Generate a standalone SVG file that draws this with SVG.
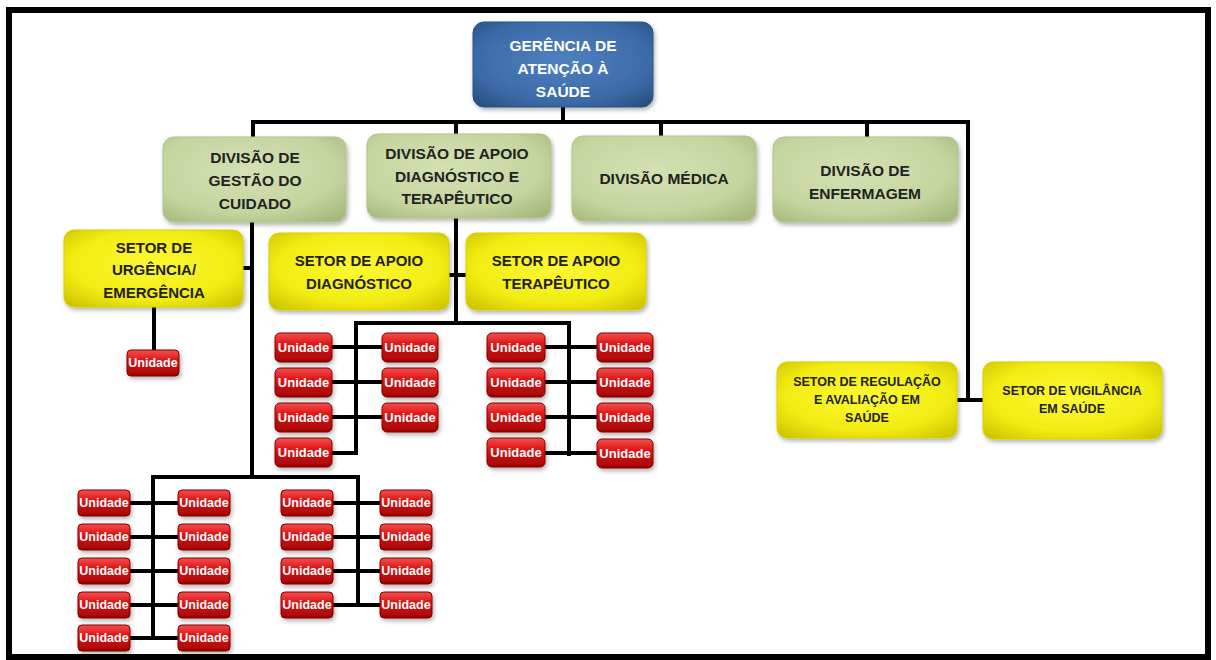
<svg xmlns="http://www.w3.org/2000/svg" width="1216" height="660" viewBox="0 0 1216 660">
<defs>
<radialGradient id="gBlue" cx="50%" cy="45%" r="70%">
<stop offset="0" stop-color="#4f80c0"/><stop offset="0.7" stop-color="#3c6aa8"/><stop offset="1" stop-color="#27507f"/>
</radialGradient>
<radialGradient id="gGreen" cx="45%" cy="40%" r="75%">
<stop offset="0" stop-color="#d3e1b3"/><stop offset="0.65" stop-color="#c5d59f"/><stop offset="1" stop-color="#a4b97a"/>
</radialGradient>
<radialGradient id="gYellow" cx="50%" cy="45%" r="70%">
<stop offset="0" stop-color="#fcf934"/><stop offset="0.65" stop-color="#f2ec12"/><stop offset="1" stop-color="#cdc500"/>
</radialGradient>
<linearGradient id="gRed" x1="0" y1="0" x2="0" y2="1">
<stop offset="0" stop-color="#f25050"/><stop offset="0.4" stop-color="#de1414"/><stop offset="1" stop-color="#a00404"/>
</linearGradient>
<filter id="sh" x="-10%" y="-10%" width="125%" height="135%">
<feDropShadow dx="1.5" dy="2.5" stdDeviation="2" flood-color="#000" flood-opacity="0.3"/>
</filter>
</defs>
<style>
text { font-family: "Liberation Sans", Arial, sans-serif; font-weight: bold; text-anchor: middle; dominant-baseline: central; }
.blue rect { fill: url(#gBlue); stroke: #2a5286; stroke-width: 1; filter: url(#sh); }
.blue text { fill: #ffffff; font-size: 15.5px; }
.green rect { fill: url(#gGreen); stroke: #b0c28a; stroke-width: 1; filter: url(#sh); }
.green text { fill: #222222; font-size: 15.5px; }
.yellow rect { fill: url(#gYellow); stroke: #d8d000; stroke-width: 1; filter: url(#sh); }
.yellow text { fill: #222222; font-size: 15px; }
.yellow text.s { font-size: 12.5px; }
.unit rect { fill: url(#gRed); stroke: #800000; stroke-width: 1; filter: url(#sh); }
.unit text { fill: #ffffff; font-size: 13px; }
.unit text.s { font-size: 12.5px; }
#connectors path { fill: none; stroke: #000; stroke-width: 4; stroke-linecap: square; }
</style>
<rect x="0" y="0" width="1216" height="660" fill="#ffffff"/>
<rect id="frame" x="9" y="10" width="1199" height="647" fill="none" stroke="#000" stroke-width="6"/>

<g id="connectors">
<path d="M563,107 V122 M253,122 H968 M253,122 V137 M456,122 V134 M661,122 V136 M867,122 V137 M968,122 V400 M957,400 H983"/>
<path d="M252,222 V477 M243,268 H252 M154,307 V350"/>
<path d="M153,477 H358 M153,477 V638 M130,503 H178 M130,537 H178 M130,571 H178 M130,605 H178 M130,638 H178"/>
<path d="M358,477 V605 M333,503 H380 M333,537 H380 M333,571 H380 M333,605 H380"/>
<path d="M456,218 V323 M449,275 H466 M356,323 H569"/>
<path d="M356,323 V453 M332,347 H382 M332,382 H382 M332,417 H382 M332,453 H356"/>
<path d="M569,323 V454 M545,347 H597 M545,382 H597 M545,417 H597 M545,453 H597"/>
</g>

<g id="gerencia" class="blue"><rect x="473" y="22" width="180" height="85" rx="11"/>
<text x="563" y="45">GERÊNCIA DE</text><text x="563" y="68">ATENÇÃO À</text><text x="563" y="91">SAÚDE</text></g>

<g id="div-gestao" class="green"><rect x="163" y="137" width="183" height="85" rx="11"/>
<text x="255" y="157">DIVISÃO DE</text><text x="255" y="180">GESTÃO DO</text><text x="255" y="203">CUIDADO</text></g>
<g id="div-apoio" class="green"><rect x="367" y="134" width="184" height="84" rx="11"/>
<text x="457" y="153">DIVISÃO DE APOIO</text><text x="457" y="176">DIAGNÓSTICO E</text><text x="457" y="198">TERAPÊUTICO</text></g>
<g id="div-medica" class="green"><rect x="572" y="136" width="184" height="85" rx="11"/>
<text x="664" y="178">DIVISÃO MÉDICA</text></g>
<g id="div-enfermagem" class="green"><rect x="773" y="137" width="185" height="85" rx="11"/>
<text x="865" y="170">DIVISÃO DE</text><text x="865" y="193">ENFERMAGEM</text></g>

<g id="setor-urgencia" class="yellow"><rect x="64" y="230" width="179" height="77" rx="10"/>
<text x="154" y="247">SETOR DE</text><text x="154" y="269">URGÊNCIA/</text><text x="154" y="292">EMERGÊNCIA</text></g>
<g id="setor-diagnostico" class="yellow"><rect x="269" y="233" width="180" height="77" rx="10"/>
<text x="359" y="260">SETOR DE APOIO</text><text x="359" y="283">DIAGNÓSTICO</text></g>
<g id="setor-terapeutico" class="yellow"><rect x="466" y="233" width="180" height="77" rx="10"/>
<text x="556" y="260">SETOR DE APOIO</text><text x="556" y="283">TERAPÊUTICO</text></g>
<g id="setor-regulacao" class="yellow"><rect x="777" y="362" width="180" height="76" rx="10"/>
<text class="s" x="867" y="382">SETOR DE REGULAÇÃO</text><text class="s" x="867" y="400">E AVALIAÇÃO EM</text><text class="s" x="867" y="418">SAÚDE</text></g>
<g id="setor-vigilancia" class="yellow"><rect x="983" y="362" width="179" height="77" rx="10"/>
<text class="s" x="1072" y="391">SETOR DE VIGILÂNCIA</text><text class="s" x="1072" y="409">EM SAÚDE</text></g>

<g id="u-urg" class="unit"><rect x="127" y="350" width="52" height="26" rx="4"/><text class="s" x="153" y="363">Unidade</text></g>

<g id="uA1" class="unit"><rect x="275" y="333" width="57" height="29" rx="5"/><text x="303.5" y="347.5">Unidade</text></g>
<g id="uA2" class="unit"><rect x="275" y="368" width="57" height="29" rx="5"/><text x="303.5" y="382.5">Unidade</text></g>
<g id="uA3" class="unit"><rect x="275" y="403" width="57" height="29" rx="5"/><text x="303.5" y="417.5">Unidade</text></g>
<g id="uA4" class="unit"><rect x="275" y="438" width="57" height="29" rx="5"/><text x="303.5" y="452.5">Unidade</text></g>
<g id="uA5" class="unit"><rect x="382" y="333" width="56" height="29" rx="5"/><text x="410" y="347.5">Unidade</text></g>
<g id="uA6" class="unit"><rect x="382" y="368" width="56" height="29" rx="5"/><text x="410" y="382.5">Unidade</text></g>
<g id="uA7" class="unit"><rect x="382" y="403" width="56" height="29" rx="5"/><text x="410" y="417.5">Unidade</text></g>

<g id="uB1" class="unit"><rect x="487" y="333" width="58" height="29" rx="5"/><text x="516" y="347.5">Unidade</text></g>
<g id="uB2" class="unit"><rect x="487" y="368" width="58" height="29" rx="5"/><text x="516" y="382.5">Unidade</text></g>
<g id="uB3" class="unit"><rect x="487" y="403" width="58" height="29" rx="5"/><text x="516" y="417.5">Unidade</text></g>
<g id="uB4" class="unit"><rect x="487" y="438" width="58" height="29" rx="5"/><text x="516" y="452.5">Unidade</text></g>
<g id="uB5" class="unit"><rect x="597" y="333" width="56" height="29" rx="5"/><text x="625" y="347.5">Unidade</text></g>
<g id="uB6" class="unit"><rect x="597" y="368" width="56" height="29" rx="5"/><text x="625" y="382.5">Unidade</text></g>
<g id="uB7" class="unit"><rect x="597" y="403" width="56" height="29" rx="5"/><text x="625" y="417.5">Unidade</text></g>
<g id="uB8" class="unit"><rect x="597" y="439" width="56" height="29" rx="5"/><text x="625" y="453.5">Unidade</text></g>

<g id="uC1" class="unit"><rect x="78" y="490" width="52" height="26" rx="4"/><text class="s" x="104" y="503">Unidade</text></g>
<g id="uC2" class="unit"><rect x="78" y="524" width="52" height="26" rx="4"/><text class="s" x="104" y="537">Unidade</text></g>
<g id="uC3" class="unit"><rect x="78" y="558" width="52" height="26" rx="4"/><text class="s" x="104" y="571">Unidade</text></g>
<g id="uC4" class="unit"><rect x="78" y="592" width="52" height="26" rx="4"/><text class="s" x="104" y="605">Unidade</text></g>
<g id="uC5" class="unit"><rect x="78" y="625" width="52" height="26" rx="4"/><text class="s" x="104" y="638">Unidade</text></g>
<g id="uC6" class="unit"><rect x="178" y="490" width="52" height="26" rx="4"/><text class="s" x="204" y="503">Unidade</text></g>
<g id="uC7" class="unit"><rect x="178" y="524" width="52" height="26" rx="4"/><text class="s" x="204" y="537">Unidade</text></g>
<g id="uC8" class="unit"><rect x="178" y="558" width="52" height="26" rx="4"/><text class="s" x="204" y="571">Unidade</text></g>
<g id="uC9" class="unit"><rect x="178" y="592" width="52" height="26" rx="4"/><text class="s" x="204" y="605">Unidade</text></g>
<g id="uC10" class="unit"><rect x="178" y="625" width="52" height="26" rx="4"/><text class="s" x="204" y="638">Unidade</text></g>

<g id="uD1" class="unit"><rect x="281" y="490" width="52" height="26" rx="4"/><text class="s" x="307" y="503">Unidade</text></g>
<g id="uD2" class="unit"><rect x="281" y="524" width="52" height="26" rx="4"/><text class="s" x="307" y="537">Unidade</text></g>
<g id="uD3" class="unit"><rect x="281" y="558" width="52" height="26" rx="4"/><text class="s" x="307" y="571">Unidade</text></g>
<g id="uD4" class="unit"><rect x="281" y="592" width="52" height="26" rx="4"/><text class="s" x="307" y="605">Unidade</text></g>
<g id="uD5" class="unit"><rect x="380" y="490" width="52" height="26" rx="4"/><text class="s" x="406" y="503">Unidade</text></g>
<g id="uD6" class="unit"><rect x="380" y="524" width="52" height="26" rx="4"/><text class="s" x="406" y="537">Unidade</text></g>
<g id="uD7" class="unit"><rect x="380" y="558" width="52" height="26" rx="4"/><text class="s" x="406" y="571">Unidade</text></g>
<g id="uD8" class="unit"><rect x="380" y="592" width="52" height="26" rx="4"/><text class="s" x="406" y="605">Unidade</text></g>
</svg>
